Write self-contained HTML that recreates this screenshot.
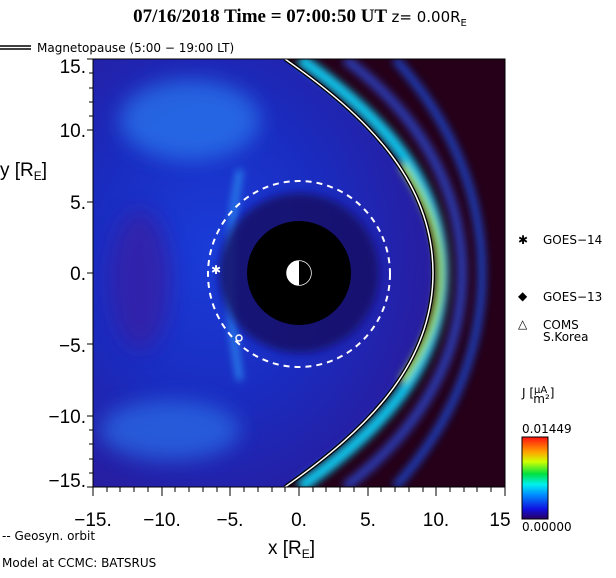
<!DOCTYPE html>
<html><head><meta charset="utf-8"><style>
body{margin:0;background:#fff;width:616px;height:574px;overflow:hidden;font-family:"DejaVu Sans","Liberation Sans",sans-serif}
</style></head><body>
<svg width="616" height="574" viewBox="0 0 616 574" xmlns="http://www.w3.org/2000/svg">
<defs>
<clipPath id="pc"><rect x="93" y="59" width="412" height="428"/></clipPath>
<radialGradient id="bgIn" cx="0.35" cy="0.45" r="0.7">
<stop offset="0" stop-color="#1a3cd8"/><stop offset="0.5" stop-color="#1a2cc0"/><stop offset="1" stop-color="#2a1a9a"/></radialGradient>
<linearGradient id="cb" x1="0" y1="1" x2="0" y2="0">
<stop offset="0" stop-color="#2a0060"/><stop offset="0.12" stop-color="#1010e0"/><stop offset="0.3" stop-color="#0090ff"/><stop offset="0.42" stop-color="#00f0f0"/><stop offset="0.55" stop-color="#00e040"/><stop offset="0.7" stop-color="#d0ff00"/><stop offset="0.82" stop-color="#ffa000"/><stop offset="1" stop-color="#ff1010"/></linearGradient>
<filter id="bl"><feGaussianBlur stdDeviation="4"/></filter>
<filter id="bl2"><feGaussianBlur stdDeviation="10"/></filter>
</defs>
<text x="300" y="22" text-anchor="middle" font-family="Liberation Serif,serif" font-weight="bold" font-size="19">07/16/2018 Time = 07:00:50 UT <tspan font-family="DejaVu Sans,sans-serif" font-weight="normal" font-size="15">z= 0.00R</tspan><tspan font-family="DejaVu Sans,sans-serif" font-weight="normal" font-size="10" dy="4">E</tspan></text>
<line x1="0" y1="46" x2="31" y2="46" stroke="#000" stroke-width="1.5"/><line x1="0" y1="49" x2="31" y2="49" stroke="#000" stroke-width="1.5"/>
<text x="37" y="52" font-size="12">Magnetopause (5:00 − 19:00 LT)</text>
<g clip-path="url(#pc)">
<rect x="93" y="59" width="412" height="428" fill="#250018"/>
<path d="M93,59 L285,59 C365,115 433,180 433,273 C433,366 365,431 285,487 L93,487Z" fill="url(#bgIn)"/>
<g filter="url(#bl2)" opacity="0.7">
<ellipse cx="190" cy="120" rx="70" ry="40" fill="#2c7cf0"/>
<ellipse cx="170" cy="430" rx="70" ry="30" fill="#2a70e8"/>
<ellipse cx="140" cy="280" rx="30" ry="70" fill="#3a1aa0"/>
</g>
<g fill="none" filter="url(#bl)">
<path d="M300,59 C380,115 442,180 442,273 C442,366 380,431 300,487" stroke="#10c8f0" stroke-width="12"/>
<path d="M402,165 C430,205 440,240 440,273 C440,306 430,341 402,381" stroke="#a0e040" stroke-width="7"/>
<path d="M345,59 C420,115 462,190 462,273 C462,356 420,431 345,487" stroke="#2a3ab0" stroke-width="10"/>
<path d="M395,59 C455,125 482,200 482,273 C482,346 455,421 395,487" stroke="#1a40c0" stroke-width="8"/>
<path d="M240,170 Q220,273 240,380" stroke="#2a8af0" stroke-width="6"/>
</g>
<circle cx="299" cy="273" r="80" fill="#180c60" filter="url(#bl)" opacity="0.8"/>
<circle cx="299" cy="273" r="52" fill="#000"/>
<path d="M285,59 C365,115 433,180 433,273 C433,366 365,431 285,487" fill="none" stroke="#000" stroke-width="4"/>
<path d="M285,59 C365,115 433,180 433,273 C433,366 365,431 285,487" fill="none" stroke="#fff" stroke-width="1.5"/>
<ellipse cx="299" cy="274" rx="91" ry="93" fill="none" stroke="#fff" stroke-width="2" stroke-dasharray="6,5"/>
</g>
<circle cx="299" cy="273" r="12" fill="#fff" stroke="#fff" stroke-width="1.5"/>
<path d="M299,261 A12,12 0 0,1 299,285Z" fill="#000"/>
<text x="216" y="274" fill="#fff" font-size="12" text-anchor="middle">✱</text>
<circle cx="239" cy="338" r="3" fill="none" stroke="#fff" stroke-width="1.5"/>
<rect x="93" y="59" width="412" height="428" fill="none" stroke="#000"/>
<g stroke="#000" stroke-width="1">
<line x1="93" y1="487" x2="93" y2="496"/><line x1="162" y1="487" x2="162" y2="496"/><line x1="230" y1="487" x2="230" y2="496"/><line x1="299" y1="487" x2="299" y2="496"/><line x1="368" y1="487" x2="368" y2="496"/><line x1="436" y1="487" x2="436" y2="496"/><line x1="505" y1="487" x2="505" y2="496"/>
<line x1="87" y1="59" x2="93" y2="59"/><line x1="87" y1="130" x2="93" y2="130"/><line x1="87" y1="202" x2="93" y2="202"/><line x1="87" y1="273" x2="93" y2="273"/><line x1="87" y1="344" x2="93" y2="344"/><line x1="87" y1="416" x2="93" y2="416"/><line x1="87" y1="487" x2="93" y2="487"/>
</g>
<g stroke="#000" stroke-width="1">
<line x1="107" y1="487" x2="107" y2="492"/><line x1="120" y1="487" x2="120" y2="492"/><line x1="134" y1="487" x2="134" y2="492"/><line x1="148" y1="487" x2="148" y2="492"/>
<line x1="175" y1="487" x2="175" y2="492"/><line x1="189" y1="487" x2="189" y2="492"/><line x1="203" y1="487" x2="203" y2="492"/><line x1="217" y1="487" x2="217" y2="492"/>
<line x1="244" y1="487" x2="244" y2="492"/><line x1="258" y1="487" x2="258" y2="492"/><line x1="272" y1="487" x2="272" y2="492"/><line x1="285" y1="487" x2="285" y2="492"/>
<line x1="313" y1="487" x2="313" y2="492"/><line x1="326" y1="487" x2="326" y2="492"/><line x1="340" y1="487" x2="340" y2="492"/><line x1="354" y1="487" x2="354" y2="492"/>
<line x1="381" y1="487" x2="381" y2="492"/><line x1="395" y1="487" x2="395" y2="492"/><line x1="409" y1="487" x2="409" y2="492"/><line x1="423" y1="487" x2="423" y2="492"/>
<line x1="450" y1="487" x2="450" y2="492"/><line x1="464" y1="487" x2="464" y2="492"/><line x1="477" y1="487" x2="477" y2="492"/><line x1="491" y1="487" x2="491" y2="492"/>
<line x1="89" y1="73" x2="93" y2="73"/><line x1="89" y1="88" x2="93" y2="88"/><line x1="89" y1="102" x2="93" y2="102"/><line x1="89" y1="116" x2="93" y2="116"/>
<line x1="89" y1="416" x2="93" y2="416"/><line x1="89" y1="430" x2="93" y2="430"/><line x1="89" y1="444" x2="93" y2="444"/><line x1="89" y1="459" x2="93" y2="459"/><line x1="89" y1="473" x2="93" y2="473"/>
</g>
<g font-size="19" fill="#000" font-family="Liberation Sans,sans-serif">
<text x="86" y="73" text-anchor="end">15.</text><text x="86" y="137" text-anchor="end">10.</text><text x="86" y="209" text-anchor="end">5.</text><text x="86" y="280" text-anchor="end">0.</text><text x="86" y="352" text-anchor="end">−5.</text><text x="86" y="423" text-anchor="end">−10.</text><text x="86" y="487" text-anchor="end">−15.</text>
<text x="93" y="526" text-anchor="middle">−15.</text><text x="162" y="526" text-anchor="middle">−10.</text><text x="230" y="526" text-anchor="middle">−5.</text><text x="299" y="526" text-anchor="middle">0.</text><text x="368" y="526" text-anchor="middle">5.</text><text x="436" y="526" text-anchor="middle">10.</text><text x="500" y="526" text-anchor="middle">15</text>
<text x="0" y="176">y [R<tspan font-size="12" dy="4">E</tspan><tspan dy="-4">]</tspan></text>
<text x="268" y="554">x [R<tspan font-size="12" dy="4">E</tspan><tspan dy="-4">]</tspan></text>
</g>
<text x="2" y="540" font-size="12">-- Geosyn. orbit</text>
<text x="2" y="567" font-size="12">Model at CCMC: BATSRUS</text>
<g font-size="12">
<text x="518" y="244">✱</text><text x="543" y="244">GOES−14</text>
<text x="518" y="300">◆</text><text x="543" y="301">GOES−13</text>
<text x="518" y="328">△</text><text x="543" y="329">COMS</text><text x="543" y="341">S.Korea</text>
<text x="522" y="397">J [<tspan font-size="10" dy="-4">μA</tspan><tspan dx="-14" dy="10">m²</tspan><tspan dy="-6">]</tspan></text>
<text x="522" y="433">0.01449</text>
<text x="522" y="531">0.00000</text>
</g>
<rect x="522" y="437" width="26" height="82" fill="url(#cb)" stroke="#000"/>
</svg>
</body></html>
